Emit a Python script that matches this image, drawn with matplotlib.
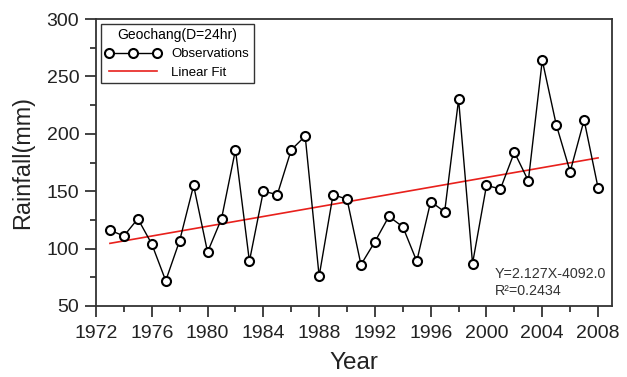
import matplotlib
matplotlib.use("Agg")
import matplotlib.pyplot as plt
from matplotlib.ticker import MultipleLocator

years = list(range(1973, 2009))
rainfall = [116, 111, 126, 104, 72, 107, 155, 97, 126, 186,
            89, 150, 147, 186, 198, 76, 147, 143, 86, 106,
            128, 119, 89, 141, 132, 230, 87, 155, 152, 184,
            159, 264, 208, 167, 212, 153]
slope = 2.127
intercept = -4092.0
r2 = 0.2434

plt.rcParams['font.family'] = ['Liberation Sans', 'DejaVu Sans']

fig = plt.figure(figsize=(6.27, 3.77), dpi=100)
ax = fig.add_axes([96/627, 1 - 306/377, (612-96)/627, (306-19)/377])

fit_x = [years[0], years[-1]]
fit_y = [slope * x + intercept for x in fit_x]

ax.plot(years, rainfall, color='black', lw=1.0, marker='o', ms=6.5,
        mfc='white', mec='black', mew=1.5, label='Observations', zorder=3)
ax.plot(fit_x, fit_y, color='#e8201c', lw=1.2, label='Linear Fit', zorder=2)

ax.set_xlim(1972, 2009)
ax.set_ylim(50, 300)
ax.xaxis.set_major_locator(MultipleLocator(4))
ax.xaxis.set_minor_locator(MultipleLocator(2))
ax.yaxis.set_major_locator(MultipleLocator(50))
ax.yaxis.set_minor_locator(MultipleLocator(25))
ax.tick_params(which='both', direction='out', top=False, right=False,
               labelsize=14, width=1.2, colors='#222222')
ax.tick_params(axis='x', pad=6)
ax.tick_params(axis='y', pad=4)
ax.tick_params(which='major', length=8)
ax.tick_params(which='minor', length=4.5)
for s in ax.spines.values():
    s.set_linewidth(1.3)
    s.set_color('#333333')

ax.set_xlabel('Year', fontsize=17.5, color='#222222', labelpad=7)
ax.set_ylabel('Rainfall(mm)', fontsize=16.8, color='#222222', labelpad=9)

ax.text(0.773, 0.111, f'Y={slope:.3f}X{intercept:.1f}', transform=ax.transAxes,
        ha='left', va='center', fontsize=10.3, color='#333333')
ax.text(0.773, 0.054, f'R\u00b2={r2:.4f}', transform=ax.transAxes,
        ha='left', va='center', fontsize=10.3, color='#333333')

leg = ax.legend(loc='upper left', title='Geochang(D=24hr)', fontsize=9.5,
                title_fontsize=10, frameon=True, fancybox=False,
                edgecolor='black', numpoints=3, handlelength=4.2,
                handletextpad=0.8, borderaxespad=0.35, borderpad=0.35,
                labelspacing=0.45)
leg.get_frame().set_linewidth(1.0)

fig.savefig('out.png', dpi=100)
